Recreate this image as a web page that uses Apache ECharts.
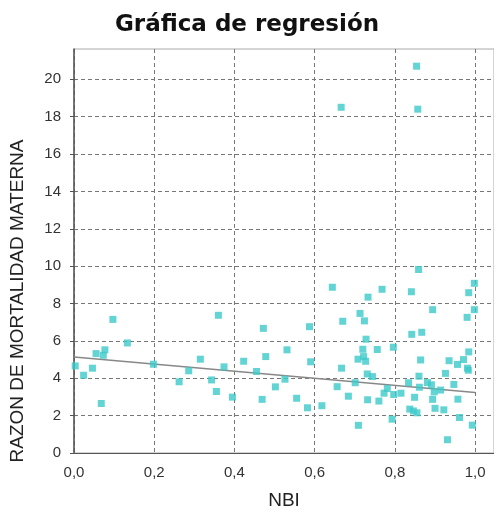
<!DOCTYPE html>
<html><head><meta charset="utf-8">
<script src="https://cdn.jsdelivr.net/npm/echarts@6/dist/echarts.min.js"></script>
<style>html,body{margin:0;padding:0;background:#fff}#c{width:494px;height:515px}</style>
</head><body><div id="c"></div>
<script>
const titleText = "Gráfica de regresión";
const xName = "NBI";
const yName = "RAZON DE MORTALIDAD MATERNA";
const xTicks = [0, 0.2, 0.4, 0.6, 0.8, 1.0];
const yTicks = [0, 2, 4, 6, 8, 10, 12, 14, 16, 18, 20];
const nbi = [0.003,0.024,0.046,0.055,0.068,0.073,0.077,0.097,0.133,0.198,0.262,0.286,0.315,0.343,0.355,0.360,0.374,0.395,0.423,0.455,0.469,0.472,0.478,0.502,0.526,0.531,0.555,0.582,0.587,0.590,0.618,0.644,0.656,0.666,0.667,0.670,0.684,0.701,0.708,0.709,0.713,0.720,0.722,0.724,0.727,0.728,0.731,0.732,0.733,0.744,0.756,0.760,0.768,0.773,0.781,0.793,0.796,0.797,0.815,0.834,0.837,0.841,0.842,0.846,0.849,0.854,0.855,0.857,0.859,0.860,0.861,0.864,0.867,0.881,0.891,0.894,0.894,0.898,0.900,0.914,0.922,0.926,0.931,0.935,0.947,0.956,0.957,0.961,0.971,0.980,0.981,0.983,0.984,0.984,0.993,0.998,0.998];
const razon = [4.66,4.16,4.54,5.32,2.65,5.23,5.52,7.15,5.89,4.75,3.81,4.40,5.02,3.91,3.29,7.37,4.61,2.99,4.91,4.36,2.87,6.67,5.16,3.54,3.95,5.52,2.93,2.42,6.76,4.88,2.53,8.87,3.55,18.5,4.54,7.05,3.04,3.76,5.02,1.48,7.47,5.55,5.16,7.07,4.91,6.09,4.23,2.85,8.34,4.09,5.54,2.78,8.76,3.20,3.45,1.81,5.66,3.13,3.20,3.76,2.35,8.63,6.35,2.25,2.98,20.7,2.15,18.4,9.82,4.11,3.52,4.98,6.46,3.77,3.65,7.67,2.87,3.27,2.39,3.37,2.31,4.26,0.71,4.94,3.67,4.74,2.88,1.90,5.00,7.26,4.54,4.43,5.41,8.58,1.49,9.08,7.67];
const fitX = [0, 1.0];
const fitY = [5.14, 3.24];

const points = nbi.map((x, i) => [x, razon[i]]);
const fitLine = fitX.map((x, i) => [x, fitY[i]]);
const fontFam = "'Liberation Sans', Arial, sans-serif";
const chart = echarts.init(document.getElementById('c'), null, {renderer: 'canvas'});
chart.setOption({
  animation: false,
  backgroundColor: '#fff',
  title: {text: titleText, left: 'center', top: 9,
    textStyle: {fontFamily: "'DejaVu Sans', sans-serif", fontSize: 23, fontWeight: 'bold', color: '#111'}},
  grid: {left: 72, right: -3, top: 49, bottom: 61, show: true, borderColor: '#aaa', borderWidth: 1, containLabel: false},
  xAxis: {type: 'value', min: 0, max: 1.047, interval: 0.2,
    name: xName, nameLocation: 'middle', nameGap: 38,
    nameTextStyle: {fontFamily: fontFam, fontSize: 19, color: '#222'},
    axisLine: {show: true, onZero: false, lineStyle: {color: '#555', width: 1}},
    axisTick: {show: false},
    axisLabel: {fontFamily: fontFam, fontSize: 15, color: '#333', margin: 12,
      customValues: xTicks,
      formatter: v => v.toFixed(1).replace('.', ',')},
    splitLine: {show: true, lineStyle: {color: '#777', type: [4, 3], width: 1}}},
  yAxis: {type: 'value', min: 0, max: 21.62, interval: 2,
    name: yName, nameLocation: 'middle', nameGap: 47, nameRotate: 90,
    nameTextStyle: {fontFamily: fontFam, fontSize: 19, color: '#222', padding: [0, 100, 0, 0]},
    axisLine: {show: true, lineStyle: {color: '#555', width: 1.5}},
    axisTick: {show: true, length: 4, customValues: yTicks, lineStyle: {color: '#555'}},
    axisLabel: {fontFamily: fontFam, fontSize: 15, color: '#333', margin: 13,
      customValues: yTicks,
      formatter: v => String(v)},
    splitLine: {show: true, lineStyle: {color: '#777', type: [4, 3], width: 1}}},
  series: [
    {type: 'line', data: fitLine, symbol: 'none', z: 2,
      lineStyle: {color: '#888', width: 1.6}},
    {type: 'scatter', data: points, symbol: 'rect', symbolSize: 7, z: 3,
      itemStyle: {color: '#3cc9c9'}}
  ]
});
</script></body></html>
